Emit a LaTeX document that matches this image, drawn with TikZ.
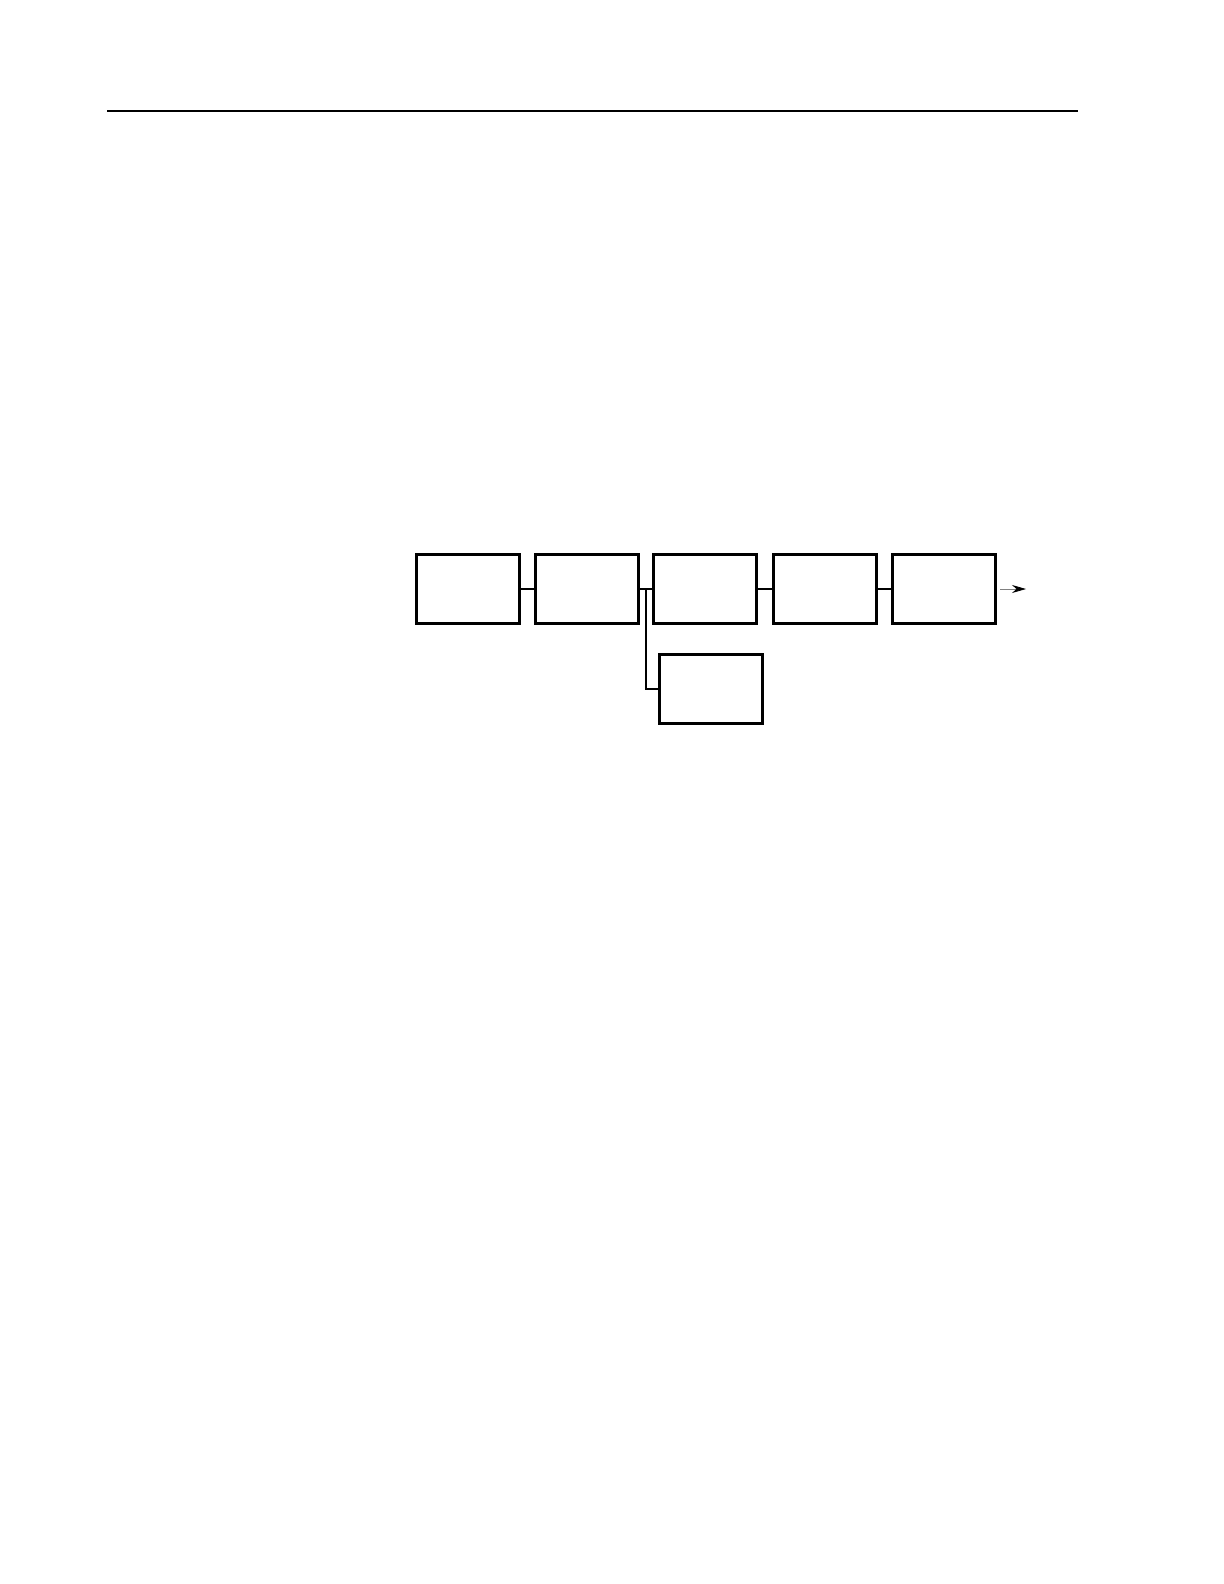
\documentclass[tikz,border=0pt]{standalone}
\usetikzlibrary{arrows.meta}
\begin{document}
\begin{tikzpicture}[x=0.5pt,y=-0.5pt,
  blockbox/.style={draw, line width=1.05pt, minimum width=51.5pt, minimum height=34.5pt, inner sep=0pt, outer sep=0pt},
  link/.style={line width=0.55pt}]
\useasboundingbox (0,0) rectangle (1224,1584);
\coordinate (r1) at (107,111);
\coordinate (r2) at (1078,111);
\draw[line width=1pt] (r1) -- (r2);
\node[blockbox] (b1) at (468,589) {};
\node[blockbox] (b2) at (587,589) {};
\node[blockbox] (b3) at (705,589) {};
\node[blockbox] (b4) at (825,589) {};
\node[blockbox] (b5) at (944,589) {};
\node[blockbox] (b6) at (711,689) {};
\draw[link] (b1) -- (b2);
\draw[link] (b2) -- (b3);
\draw[link] (b3) -- (b4);
\draw[link] (b4) -- (b5);
\coordinate (j) at (645.7,589);
\draw[line width=0.8pt] (j) |- (b6.west);
\coordinate (o1) at (1000,589);
\coordinate (o2) at (1026,589);
\draw[line width=0.4pt, gray, -{Stealth[length=7pt,width=4pt,black]}] (o1) -- (o2);
\end{tikzpicture}
\end{document}
